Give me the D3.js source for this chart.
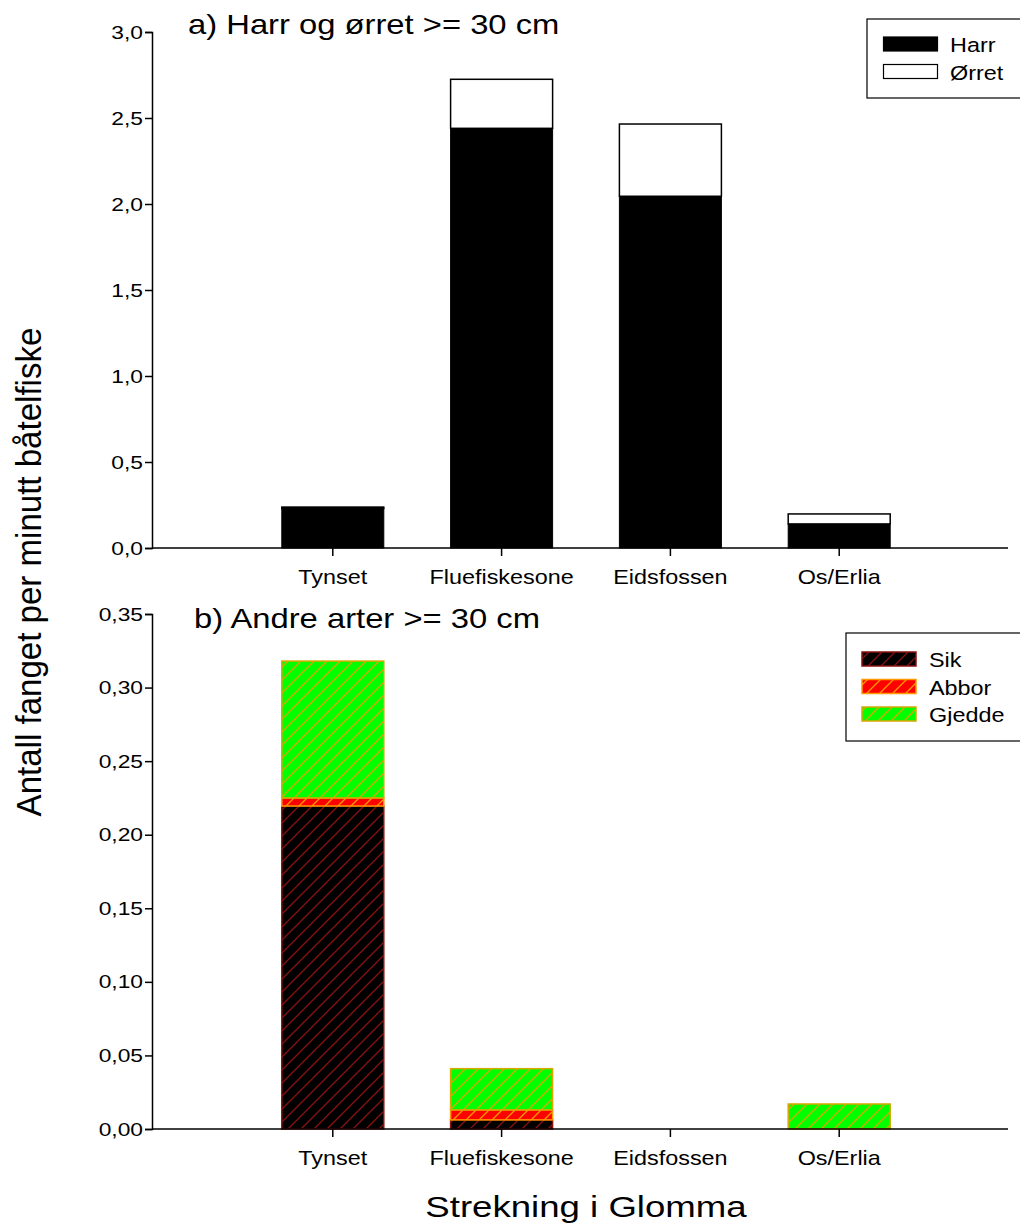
<!DOCTYPE html>
<html><head><meta charset="utf-8">
<script src="https://cdn.jsdelivr.net/npm/d3@7"></script>
<style>body{margin:0;background:#fff}svg{display:block}text{font-family:"Liberation Sans",Arial,sans-serif;fill:#000}</style>
</head><body>
<svg id="c" width="1020" height="1225"></svg>
<script>
const categories = ["Tynset","Fluefiskesone","Eidsfossen","Os/Erlia"];
const harr  = [0.23, 2.44, 2.045, 0.14];
const orret = [0.008, 0.285, 0.42, 0.058];
const sik    = [0.2195, 0.0062, 0, 0];
const abbor  = [0.0055, 0.0068, 0, 0];
const gjedde = [0.093, 0.028, 0, 0.017];
const ticksA = [0,0.5,1,1.5,2,2.5,3];
const ticksB = [0,0.05,0.1,0.15,0.2,0.25,0.3,0.35];

const svg = d3.select("#c");
const fmtA = d => d3.format(".1f")(d).replace(".",",");
const fmtB = d => d3.format(".2f")(d).replace(".",",");

const x = d3.scaleLinear().domain([0,5]).range([164,1008]);
const barW = 102;
const axL = 152, axR = 1008;

function stext(parent, tx, ty, str, size, sx, anchor){
  return parent.append("text").attr("transform",`translate(${tx},${ty}) scale(${sx},1)`)
    .attr("font-size",size).attr("text-anchor",anchor||"start").text(str);
}

const defs = svg.append("defs");
function hatch(id, bg, line){
  const p = defs.append("pattern").attr("id",id).attr("patternUnits","userSpaceOnUse")
    .attr("width",13).attr("height",13);
  p.append("rect").attr("width",13).attr("height",13).attr("fill",bg);
  p.append("path").attr("d","M-1,14 L14,-1 M-4,4 L4,-4 M9,17 L17,9").attr("stroke",line).attr("stroke-width",1.3);
}
hatch("hSik","#000000","#8b1010");
hatch("hAbbor","#ff0000","#ff9900");
hatch("hGjedde","#00ff00","#d8a800");

function panel(y, ticks, fmt, series, title, titleX, titleY){
  const g = svg.append("g");
  categories.forEach((c,i)=>{
    let base = 0;
    series.forEach(s=>{
      const v = s.values[i];
      if(v>0){
        g.append("rect").attr("x",x(i+1)-barW/2).attr("width",barW)
          .attr("y",y(base+v)).attr("height",y(base)-y(base+v))
          .attr("fill",s.fill).attr("stroke",s.stroke).attr("stroke-width",s.sw);
      }
      base += v;
    });
  });
  const ya = g.append("g").attr("transform",`translate(${axL},0)`)
    .call(d3.axisLeft(y).tickValues(ticks).tickFormat(fmt).tickSizeOuter(0).tickSize(7));
  ya.selectAll("text").remove();
  ya.selectAll("line,path").attr("stroke","#000").attr("stroke-width",1.5);
  ticks.forEach(t=>{
    stext(g, axL-9, y(t)+6.5, fmt(t), 19, 1.2, "end");
  });
  const y0 = y(0);
  g.append("line").attr("x1",axL).attr("x2",axR).attr("y1",y0).attr("y2",y0).attr("stroke","#000").attr("stroke-width",1.5);
  categories.forEach((c,i)=>{
    g.append("line").attr("x1",x(i+1)).attr("x2",x(i+1)).attr("y1",y0).attr("y2",y0+8).attr("stroke","#000").attr("stroke-width",1.5);
    stext(g, x(i+1), y0+36, c, 20, 1.17, "middle");
  });
  stext(g, titleX, titleY, title, 28, 1.17);
}

const yA = d3.scaleLinear().domain([0,3]).range([548,32]);
panel(yA, ticksA, fmtA, [
  {values:harr, fill:"#000", stroke:"#000", sw:1},
  {values:orret, fill:"#fff", stroke:"#000", sw:1.5}
], "a) Harr og ørret >= 30 cm", 188, 34);

const yB = d3.scaleLinear().domain([0,0.35]).range([1129,614]);
panel(yB, ticksB, fmtB, [
  {values:sik, fill:"url(#hSik)", stroke:"#8b1010", sw:1.5},
  {values:abbor, fill:"url(#hAbbor)", stroke:"#ff9900", sw:1.5},
  {values:gjedde, fill:"url(#hGjedde)", stroke:"#d8a800", sw:1.5}
], "b) Andre arter >= 30 cm", 194, 628);

svg.append("rect").attr("x",867).attr("y",19).attr("width",170).attr("height",79).attr("fill","#fff").attr("stroke","#000").attr("stroke-width",1.2);
[["Harr","#000","#000"],["Ørret","#fff","#000"]].forEach((d,i)=>{
  svg.append("rect").attr("x",883.5).attr("y",37+i*27.5).attr("width",54).attr("height",14).attr("fill",d[1]).attr("stroke",d[2]).attr("stroke-width",1.2);
  stext(svg, 950, 52+i*27.5, d[0], 19.5, 1.2);
});
svg.append("rect").attr("x",846).attr("y",633).attr("width",190).attr("height",108).attr("fill","#fff").attr("stroke","#000").attr("stroke-width",1.2);
[["Sik","url(#hSik)","#8b1010"],["Abbor","url(#hAbbor)","#ff9900"],["Gjedde","url(#hGjedde)","#d8a800"]].forEach((d,i)=>{
  svg.append("rect").attr("x",862).attr("y",652+i*27.5).attr("width",54).attr("height",14).attr("fill",d[1]).attr("stroke",d[2]).attr("stroke-width",1.5);
  stext(svg, 929, 667+i*27.5, d[0], 19.5, 1.2);
});

svg.append("text").attr("transform","translate(41,572) rotate(-90) scale(1.14,1.2)").attr("text-anchor","middle").attr("font-size",29).text("Antall fanget per minutt båtelfiske");
stext(svg, 586, 1217, "Strekning i Glomma", 30, 1.22, "middle");
</script>
</body></html>
